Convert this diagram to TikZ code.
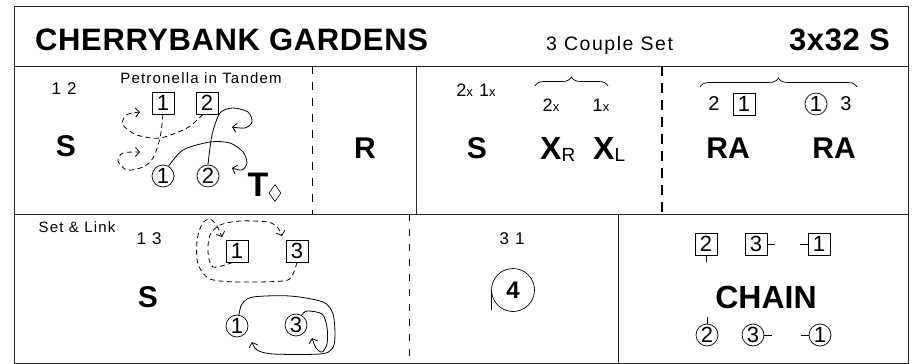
\documentclass[tikz,border=0pt]{standalone}
\usepackage{fontspec}
\setmainfont{Liberation Sans}
\newfontfamily\spaced{Liberation Sans}[LetterSpace=8]
\usetikzlibrary{arrows.meta,shapes.geometric,decorations.pathreplacing}
\newcommand{\subx}{{\fontsize{13}{13}\selectfont x}}
\newcommand{\low}[1]{\raisebox{-2pt}{\mdseries\fontsize{19}{19}\selectfont #1}}

\tikzset{
	man/.style = {draw, rectangle, minimum size=22pt, inner sep=0pt, line width=0.7pt, font=\fontsize{22}{22}\selectfont},
	lady/.style = {draw, circle, minimum size=22pt, inner sep=0pt, line width=0.7pt, font=\fontsize{22}{22}\selectfont},
	fig/.style = {font=\bfseries\fontsize{30}{30}\selectfont},
	head/.style = {font=\bfseries\fontsize{31}{31}\selectfont\addfontfeature{LetterSpace=2}},
	num/.style = {font=\spaced\fontsize{17}{17}\selectfont},
	note/.style = {font=\spaced\fontsize{15}{15}\selectfont},
	frame/.style = {line width=1pt, draw=black!85},
	track/.style = {line width=0.8pt, -{Straight Barb[length=4pt,width=9pt]}},
	trackm/.style = {track, dash pattern=on 5pt off 3.5pt},
	bar/.style = {line width=0.8pt, dash pattern=on 8pt off 8pt},
	tick/.style = {line width=0.7pt}
}

\begin{document}
\begin{tikzpicture}[x=1pt, y=-1pt]
	\useasboundingbox (0,0) rectangle (914,364);
	\draw [frame] (14,6) rectangle (908,363);
	\draw [frame] (14,66) -- (908,66);
	\draw [frame] (14,214) -- (908,214);
	\draw [frame] (416,66) -- (416,214);
	\draw [frame] (618,214) -- (618,363);
	\draw [bar] (312,66) -- (312,214);
	\draw [bar, line width=2pt, dash pattern=on 10pt off 7pt] (662,66) -- (662,214);
	\draw [bar, dash pattern=on 7pt off 8pt] (409,214) -- (409,363);

	\node [head, anchor=base west, inner sep=0pt] (title) at (35,50) {CHERRYBANK GARDENS};
	\node [font=\spaced\fontsize{19.5}{19.5}\selectfont, anchor=base west, inner sep=0pt] (set) at (546,50) {3 Couple Set};
	\node [head, anchor=base east, inner sep=0pt] (bars) at (890,50) {3x32 S};

	% petronella in tandem
	\node [num] (n12) at (64,89) {1 2};
	\node [note] (pet) at (201,78) {Petronella in Tandem};
	\node [fig] (s1) at (66,146) {S};
	\node [man] (m1) at (163,103) {1};
	\node [man] (m2) at (207,103) {2};
	\node [lady] (l1) at (163,176) {1};
	\node [lady] (l2) at (208,176) {2};
	\node [font=\bfseries\fontsize{34}{34}\selectfont] (turn) at (258,185) {T};
	\node [draw, diamond, minimum width=12pt, minimum height=17pt, inner sep=0pt, line width=0.6pt] (dia) at (275,193) {};
	\draw [trackm] plot [smooth] coordinates {(m2.250) (187,128) (160,138) (137,135) (123,125) (126,115) (140,112)};
	\draw [trackm] plot [smooth] coordinates {(m1.south) (160,138) (153,158) (143,167) (127,170) (118,161) (123,153) (140,152)};
	\draw [track] plot [smooth] coordinates {(l2.north) (212,135) (220,113) (233,108) (248,112) (252,122) (245,128) (232,127)};
	\draw [track] plot [smooth] coordinates {(l1.60) (183,150) (210,142) (230,143) (243,152) (247,163) (242,170) (232,168)};

	\node [fig] (r) at (365,148) {R};

	% set, cross over
	\node [font=\spaced\fontsize{18}{18}\selectfont] (n21) at (476,90) {2\subx{} 1\subx};
	\draw [decorate, decoration={brace, amplitude=9pt}, line width=0.7pt] (535,86) -- (608,86);
	\node [font=\spaced\fontsize{18}{18}\selectfont] (x2) at (551,105) {2\subx};
	\node [font=\spaced\fontsize{18}{18}\selectfont] (x1) at (601,105) {1\subx};
	\node [fig] (s2) at (477,148) {S};
	\node [font=\bfseries\fontsize{32}{32}\selectfont, anchor=base west, inner sep=0pt] (xr) at (540,159) {X\low{R}};
	\node [font=\bfseries\fontsize{32}{32}\selectfont, anchor=base west, inner sep=0pt] (xl) at (593,159) {X\low{L}};

	% rights and lefts
	\draw [decorate, decoration={brace, amplitude=9pt}, line width=0.7pt] (700,87) -- (857,87);
	\node [font=\fontsize{20}{20}\selectfont] (a2) at (714,104) {2};
	\node [man] (am1) at (744,104) {1};
	\node [lady] (al1) at (816,104) {1};
	\node [font=\fontsize{20}{20}\selectfont] (a3) at (846,104) {3};
	\node [fig] (ra) at (728,148) {RA};
	\node [fig] (rb) at (834,148) {RA};

	% set and link
	\node [note] (link) at (77,227) {Set \& Link};
	\node [num] (n13) at (149,239) {1 3};
	\node [fig] (s3) at (148,297) {S};
	\node [man] (k1) at (237,251) {1};
	\node [man] (k3) at (297,251) {3};
	\node [lady] (g1) at (237,326) {1};
	\node [lady] (g3) at (296,325) {3};
	\draw [trackm] plot [smooth] coordinates {(k1.250) (213,267) (208,252) (210,235) (220,225) (240,221) (268,222) (278,228) (282,236)};
	\draw [trackm] plot [smooth] coordinates {(k3.south) (292,276) (283,281) (240,282) (210,279) (198,264) (197,241) (202,224) (210,219) (217,226) (222,237)};
	\draw [track] plot [smooth] coordinates {(g1.80) (242,304) (253,297) (290,296) (323,302) (333,314) (335,337) (332,349) (320,354) (273,354) (257,350) (252,342)};
	\draw [track] plot [smooth] coordinates {(g3.60) (307,311) (322,314) (327,327) (327,344) (322,352) (316,348) (312,338)};

	% four hands round
	\node [num] (n31) at (512,239) {3 1};
	\node [lady, minimum size=43pt, font=\bfseries\fontsize{24}{24}\selectfont] (four) at (513,290) {4};
	\draw [tick] (four.west) -- ++(0,20);

	% chain
	\node [man] (c2) at (706,244) {2};
	\node [man] (c3) at (756,244) {3};
	\node [man] (c1) at (819,244) {1};
	\node [font=\bfseries\fontsize{32}{32}\selectfont] (chain) at (766,297) {CHAIN};
	\node [lady] (d2) at (707,335) {2};
	\node [lady] (d3) at (753,335) {3};
	\node [lady] (d1) at (820,335) {1};
	\draw [tick] (c2.south) -- ++(0,7);
	\draw [tick] (c3.east) -- ++(8,0);
	\draw [tick] (c1.west) -- ++(-8,0);
	\draw [tick] (d2.north) -- ++(0,-7);
	\draw [tick] (d3.east) -- ++(8,0);
	\draw [tick] (d1.west) -- ++(-8,0);
\end{tikzpicture}
\end{document}
